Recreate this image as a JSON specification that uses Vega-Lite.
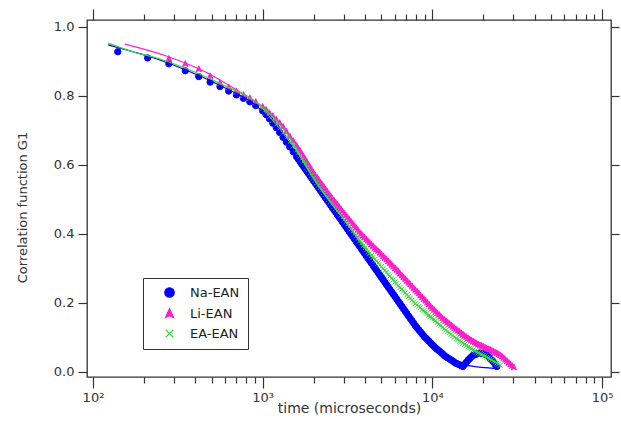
{
"$schema": "https://vega.github.io/schema/vega-lite/v6.json",
"width": 524, "height": 357,
"autosize": {"type": "none"},
"padding": {"left": 87, "top": 20, "right": 10, "bottom": 57},
"background": "white",
"config": {
 "view": {"stroke": "#333", "strokeWidth": 1.3},
 "font": "DejaVu Sans",
 "axis": {"grid": false, "domain": false, "tickColor": "#333", "tickWidth": 1.2, "labelColor": "#333", "labelFont": "DejaVu Sans", "labelFontSize": 13, "titleFont": "DejaVu Sans", "titleFontSize": 13, "titleFontWeight": "normal", "titleColor": "#333"}
},
"datasets": {
"pts": [
{"s":"Na-EAN","t":140,"g":0.928},{"s":"Na-EAN","t":210,"g":0.910},{"s":"Na-EAN","t":280,"g":0.893},{"s":"Na-EAN","t":350,"g":0.873},{"s":"Na-EAN","t":420,"g":0.856},{"s":"Na-EAN","t":490,"g":0.840},{"s":"Na-EAN","t":560,"g":0.827},{"s":"Na-EAN","t":630,"g":0.814},{"s":"Na-EAN","t":700,"g":0.803},{"s":"Na-EAN","t":770,"g":0.793},{"s":"Na-EAN","t":840,"g":0.783},{"s":"Na-EAN","t":910,"g":0.772},
{"s":"Na-EAN","t":1000,"g":0.757},{"s":"Na-EAN","t":1047,"g":0.746},{"s":"Na-EAN","t":1096,"g":0.734},{"s":"Na-EAN","t":1148,"g":0.721},{"s":"Na-EAN","t":1202,"g":0.708},{"s":"Na-EAN","t":1259,"g":0.694},{"s":"Na-EAN","t":1318,"g":0.680},{"s":"Na-EAN","t":1380,"g":0.666},{"s":"Na-EAN","t":1445,"g":0.652},{"s":"Na-EAN","t":1514,"g":0.638},{"s":"Na-EAN","t":1585,"g":0.624},
{"s":"Na-EAN","t":1622,"g":0.617},{"s":"Na-EAN","t":1660,"g":0.610},{"s":"Na-EAN","t":1698,"g":0.603},{"s":"Na-EAN","t":1738,"g":0.596},{"s":"Na-EAN","t":1778,"g":0.589},{"s":"Na-EAN","t":1820,"g":0.582},{"s":"Na-EAN","t":1862,"g":0.575},{"s":"Na-EAN","t":1905,"g":0.568},{"s":"Na-EAN","t":1950,"g":0.561},{"s":"Na-EAN","t":1995,"g":0.554},{"s":"Na-EAN","t":2042,"g":0.547},{"s":"Na-EAN","t":2089,"g":0.540},{"s":"Na-EAN","t":2138,"g":0.533},{"s":"Na-EAN","t":2188,"g":0.526},{"s":"Na-EAN","t":2239,"g":0.519},{"s":"Na-EAN","t":2291,"g":0.512},{"s":"Na-EAN","t":2344,"g":0.505},{"s":"Na-EAN","t":2399,"g":0.498},{"s":"Na-EAN","t":2455,"g":0.491},{"s":"Na-EAN","t":2512,"g":0.484},{"s":"Na-EAN","t":2570,"g":0.477},{"s":"Na-EAN","t":2630,"g":0.470},{"s":"Na-EAN","t":2692,"g":0.463},{"s":"Na-EAN","t":2754,"g":0.456},{"s":"Na-EAN","t":2818,"g":0.449},{"s":"Na-EAN","t":2884,"g":0.442},{"s":"Na-EAN","t":2951,"g":0.435},{"s":"Na-EAN","t":3020,"g":0.428},{"s":"Na-EAN","t":3090,"g":0.421},{"s":"Na-EAN","t":3162,"g":0.414},{"s":"Na-EAN","t":3236,"g":0.407},{"s":"Na-EAN","t":3311,"g":0.400},{"s":"Na-EAN","t":3388,"g":0.393},{"s":"Na-EAN","t":3467,"g":0.386},{"s":"Na-EAN","t":3548,"g":0.379},{"s":"Na-EAN","t":3631,"g":0.372},{"s":"Na-EAN","t":3715,"g":0.365},{"s":"Na-EAN","t":3802,"g":0.358},{"s":"Na-EAN","t":3890,"g":0.351},{"s":"Na-EAN","t":3981,"g":0.344},{"s":"Na-EAN","t":4074,"g":0.337},{"s":"Na-EAN","t":4169,"g":0.330},{"s":"Na-EAN","t":4266,"g":0.323},{"s":"Na-EAN","t":4365,"g":0.316},{"s":"Na-EAN","t":4467,"g":0.309},{"s":"Na-EAN","t":4571,"g":0.302},{"s":"Na-EAN","t":4677,"g":0.295},{"s":"Na-EAN","t":4786,"g":0.288},{"s":"Na-EAN","t":4898,"g":0.281},{"s":"Na-EAN","t":5012,"g":0.274},{"s":"Na-EAN","t":5129,"g":0.267},{"s":"Na-EAN","t":5248,"g":0.260},{"s":"Na-EAN","t":5370,"g":0.253},{"s":"Na-EAN","t":5495,"g":0.246},{"s":"Na-EAN","t":5623,"g":0.239},{"s":"Na-EAN","t":5754,"g":0.232},{"s":"Na-EAN","t":5888,"g":0.225},{"s":"Na-EAN","t":6026,"g":0.218},{"s":"Na-EAN","t":6166,"g":0.211},{"s":"Na-EAN","t":6310,"g":0.204},{"s":"Na-EAN","t":6457,"g":0.197},{"s":"Na-EAN","t":6607,"g":0.190},{"s":"Na-EAN","t":6761,"g":0.183},{"s":"Na-EAN","t":6918,"g":0.176},{"s":"Na-EAN","t":7079,"g":0.169},{"s":"Na-EAN","t":7244,"g":0.162},{"s":"Na-EAN","t":7413,"g":0.155},{"s":"Na-EAN","t":7586,"g":0.148},{"s":"Na-EAN","t":7762,"g":0.141},{"s":"Na-EAN","t":7943,"g":0.134},{"s":"Na-EAN","t":8128,"g":0.128},{"s":"Na-EAN","t":8318,"g":0.122},{"s":"Na-EAN","t":8511,"g":0.116},{"s":"Na-EAN","t":8710,"g":0.110},{"s":"Na-EAN","t":8913,"g":0.104},{"s":"Na-EAN","t":9120,"g":0.099},{"s":"Na-EAN","t":9333,"g":0.094},{"s":"Na-EAN","t":9550,"g":0.089},{"s":"Na-EAN","t":9772,"g":0.084},{"s":"Na-EAN","t":10000,"g":0.079},{"s":"Na-EAN","t":10233,"g":0.074},{"s":"Na-EAN","t":10471,"g":0.069},{"s":"Na-EAN","t":10715,"g":0.065},{"s":"Na-EAN","t":10965,"g":0.061},{"s":"Na-EAN","t":11220,"g":0.057},{"s":"Na-EAN","t":11482,"g":0.053},{"s":"Na-EAN","t":11749,"g":0.048},{"s":"Na-EAN","t":12023,"g":0.044},{"s":"Na-EAN","t":12303,"g":0.041},{"s":"Na-EAN","t":12589,"g":0.038},{"s":"Na-EAN","t":12882,"g":0.035},{"s":"Na-EAN","t":13183,"g":0.032},{"s":"Na-EAN","t":13490,"g":0.028},{"s":"Na-EAN","t":13804,"g":0.025},{"s":"Na-EAN","t":14125,"g":0.023},{"s":"Na-EAN","t":14454,"g":0.021},{"s":"Na-EAN","t":14791,"g":0.018},{"s":"Na-EAN","t":15136,"g":0.016},{"s":"Na-EAN","t":15488,"g":0.022},{"s":"Na-EAN","t":15849,"g":0.028},{"s":"Na-EAN","t":16218,"g":0.034},{"s":"Na-EAN","t":16596,"g":0.039},{"s":"Na-EAN","t":16982,"g":0.044},{"s":"Na-EAN","t":17378,"g":0.048},{"s":"Na-EAN","t":17783,"g":0.050},{"s":"Na-EAN","t":18197,"g":0.052},{"s":"Na-EAN","t":18621,"g":0.054},{"s":"Na-EAN","t":19055,"g":0.055},{"s":"Na-EAN","t":19498,"g":0.054},{"s":"Na-EAN","t":19953,"g":0.053},{"s":"Na-EAN","t":20417,"g":0.052},{"s":"Na-EAN","t":20893,"g":0.050},{"s":"Na-EAN","t":21380,"g":0.045},{"s":"Na-EAN","t":21878,"g":0.040},{"s":"Na-EAN","t":22387,"g":0.034},{"s":"Na-EAN","t":22909,"g":0.029},{"s":"Na-EAN","t":23442,"g":0.022},{"s":"Na-EAN","t":23988,"g":0.016},
{"s":"Li-EAN","t":280,"g":0.908},{"s":"Li-EAN","t":350,"g":0.893},{"s":"Li-EAN","t":420,"g":0.878},{"s":"Li-EAN","t":490,"g":0.858},{"s":"Li-EAN","t":560,"g":0.838},{"s":"Li-EAN","t":630,"g":0.825},{"s":"Li-EAN","t":700,"g":0.813},{"s":"Li-EAN","t":770,"g":0.803},{"s":"Li-EAN","t":840,"g":0.794},{"s":"Li-EAN","t":910,"g":0.783},
{"s":"Li-EAN","t":1000,"g":0.769},{"s":"Li-EAN","t":1047,"g":0.760},{"s":"Li-EAN","t":1096,"g":0.751},{"s":"Li-EAN","t":1148,"g":0.742},{"s":"Li-EAN","t":1202,"g":0.732},{"s":"Li-EAN","t":1259,"g":0.722},{"s":"Li-EAN","t":1318,"g":0.711},{"s":"Li-EAN","t":1380,"g":0.697},{"s":"Li-EAN","t":1445,"g":0.683},{"s":"Li-EAN","t":1514,"g":0.670},{"s":"Li-EAN","t":1585,"g":0.656},
{"s":"Li-EAN","t":1622,"g":0.648},{"s":"Li-EAN","t":1660,"g":0.641},{"s":"Li-EAN","t":1698,"g":0.633},{"s":"Li-EAN","t":1738,"g":0.625},{"s":"Li-EAN","t":1778,"g":0.617},{"s":"Li-EAN","t":1820,"g":0.609},{"s":"Li-EAN","t":1862,"g":0.601},{"s":"Li-EAN","t":1905,"g":0.593},{"s":"Li-EAN","t":1950,"g":0.585},{"s":"Li-EAN","t":1995,"g":0.577},{"s":"Li-EAN","t":2042,"g":0.570},{"s":"Li-EAN","t":2089,"g":0.564},{"s":"Li-EAN","t":2138,"g":0.557},{"s":"Li-EAN","t":2188,"g":0.550},{"s":"Li-EAN","t":2239,"g":0.543},{"s":"Li-EAN","t":2291,"g":0.537},{"s":"Li-EAN","t":2344,"g":0.530},{"s":"Li-EAN","t":2399,"g":0.523},{"s":"Li-EAN","t":2455,"g":0.516},{"s":"Li-EAN","t":2512,"g":0.510},{"s":"Li-EAN","t":2570,"g":0.503},{"s":"Li-EAN","t":2630,"g":0.497},{"s":"Li-EAN","t":2692,"g":0.491},{"s":"Li-EAN","t":2754,"g":0.485},{"s":"Li-EAN","t":2818,"g":0.479},{"s":"Li-EAN","t":2884,"g":0.473},{"s":"Li-EAN","t":2951,"g":0.466},{"s":"Li-EAN","t":3020,"g":0.460},{"s":"Li-EAN","t":3090,"g":0.454},{"s":"Li-EAN","t":3162,"g":0.448},{"s":"Li-EAN","t":3236,"g":0.442},{"s":"Li-EAN","t":3311,"g":0.436},{"s":"Li-EAN","t":3388,"g":0.430},{"s":"Li-EAN","t":3467,"g":0.424},{"s":"Li-EAN","t":3548,"g":0.418},{"s":"Li-EAN","t":3631,"g":0.412},{"s":"Li-EAN","t":3715,"g":0.406},{"s":"Li-EAN","t":3802,"g":0.400},{"s":"Li-EAN","t":3890,"g":0.395},{"s":"Li-EAN","t":3981,"g":0.390},{"s":"Li-EAN","t":4074,"g":0.385},{"s":"Li-EAN","t":4169,"g":0.380},{"s":"Li-EAN","t":4266,"g":0.375},{"s":"Li-EAN","t":4365,"g":0.370},{"s":"Li-EAN","t":4467,"g":0.365},{"s":"Li-EAN","t":4571,"g":0.360},{"s":"Li-EAN","t":4677,"g":0.355},{"s":"Li-EAN","t":4786,"g":0.351},{"s":"Li-EAN","t":4898,"g":0.346},{"s":"Li-EAN","t":5012,"g":0.341},{"s":"Li-EAN","t":5129,"g":0.336},{"s":"Li-EAN","t":5248,"g":0.331},{"s":"Li-EAN","t":5370,"g":0.326},{"s":"Li-EAN","t":5495,"g":0.321},{"s":"Li-EAN","t":5623,"g":0.316},{"s":"Li-EAN","t":5754,"g":0.311},{"s":"Li-EAN","t":5888,"g":0.306},{"s":"Li-EAN","t":6026,"g":0.301},{"s":"Li-EAN","t":6166,"g":0.296},{"s":"Li-EAN","t":6310,"g":0.291},{"s":"Li-EAN","t":6457,"g":0.285},{"s":"Li-EAN","t":6607,"g":0.280},{"s":"Li-EAN","t":6761,"g":0.275},{"s":"Li-EAN","t":6918,"g":0.270},{"s":"Li-EAN","t":7079,"g":0.264},{"s":"Li-EAN","t":7244,"g":0.259},{"s":"Li-EAN","t":7413,"g":0.254},{"s":"Li-EAN","t":7586,"g":0.249},{"s":"Li-EAN","t":7762,"g":0.243},{"s":"Li-EAN","t":7943,"g":0.238},{"s":"Li-EAN","t":8128,"g":0.233},{"s":"Li-EAN","t":8318,"g":0.228},{"s":"Li-EAN","t":8511,"g":0.222},{"s":"Li-EAN","t":8710,"g":0.217},{"s":"Li-EAN","t":8913,"g":0.212},{"s":"Li-EAN","t":9120,"g":0.207},{"s":"Li-EAN","t":9333,"g":0.201},{"s":"Li-EAN","t":9550,"g":0.196},{"s":"Li-EAN","t":9772,"g":0.190},{"s":"Li-EAN","t":10000,"g":0.185},{"s":"Li-EAN","t":10233,"g":0.180},{"s":"Li-EAN","t":10471,"g":0.175},{"s":"Li-EAN","t":10715,"g":0.170},{"s":"Li-EAN","t":10965,"g":0.166},{"s":"Li-EAN","t":11220,"g":0.161},{"s":"Li-EAN","t":11482,"g":0.156},{"s":"Li-EAN","t":11749,"g":0.152},{"s":"Li-EAN","t":12023,"g":0.148},{"s":"Li-EAN","t":12303,"g":0.144},{"s":"Li-EAN","t":12589,"g":0.140},{"s":"Li-EAN","t":12882,"g":0.136},{"s":"Li-EAN","t":13183,"g":0.132},{"s":"Li-EAN","t":13490,"g":0.128},{"s":"Li-EAN","t":13804,"g":0.124},{"s":"Li-EAN","t":14125,"g":0.120},{"s":"Li-EAN","t":14454,"g":0.117},{"s":"Li-EAN","t":14791,"g":0.113},{"s":"Li-EAN","t":15136,"g":0.109},{"s":"Li-EAN","t":15488,"g":0.105},{"s":"Li-EAN","t":15849,"g":0.102},{"s":"Li-EAN","t":16218,"g":0.098},{"s":"Li-EAN","t":16596,"g":0.095},{"s":"Li-EAN","t":16982,"g":0.092},{"s":"Li-EAN","t":17378,"g":0.089},{"s":"Li-EAN","t":17783,"g":0.086},{"s":"Li-EAN","t":18197,"g":0.083},{"s":"Li-EAN","t":18621,"g":0.080},{"s":"Li-EAN","t":19055,"g":0.078},{"s":"Li-EAN","t":19498,"g":0.076},{"s":"Li-EAN","t":19953,"g":0.074},{"s":"Li-EAN","t":20417,"g":0.071},{"s":"Li-EAN","t":20893,"g":0.069},{"s":"Li-EAN","t":21380,"g":0.067},{"s":"Li-EAN","t":21878,"g":0.065},{"s":"Li-EAN","t":22387,"g":0.062},{"s":"Li-EAN","t":22909,"g":0.060},{"s":"Li-EAN","t":23442,"g":0.057},{"s":"Li-EAN","t":23988,"g":0.055},{"s":"Li-EAN","t":24547,"g":0.052},{"s":"Li-EAN","t":25119,"g":0.049},{"s":"Li-EAN","t":25704,"g":0.045},{"s":"Li-EAN","t":26303,"g":0.041},{"s":"Li-EAN","t":26915,"g":0.036},{"s":"Li-EAN","t":27542,"g":0.032},{"s":"Li-EAN","t":28184,"g":0.027},{"s":"Li-EAN","t":28840,"g":0.022},{"s":"Li-EAN","t":29512,"g":0.018},{"s":"Li-EAN","t":30200,"g":0.014},
{"s":"EA-EAN","t":1000,"g":0.763},{"s":"EA-EAN","t":1047,"g":0.752},{"s":"EA-EAN","t":1096,"g":0.740},{"s":"EA-EAN","t":1148,"g":0.729},{"s":"EA-EAN","t":1202,"g":0.717},{"s":"EA-EAN","t":1259,"g":0.706},{"s":"EA-EAN","t":1318,"g":0.693},{"s":"EA-EAN","t":1380,"g":0.680},{"s":"EA-EAN","t":1445,"g":0.667},{"s":"EA-EAN","t":1514,"g":0.655},{"s":"EA-EAN","t":1585,"g":0.642},
{"s":"EA-EAN","t":1622,"g":0.634},{"s":"EA-EAN","t":1660,"g":0.626},{"s":"EA-EAN","t":1698,"g":0.618},{"s":"EA-EAN","t":1738,"g":0.610},{"s":"EA-EAN","t":1778,"g":0.602},{"s":"EA-EAN","t":1820,"g":0.594},{"s":"EA-EAN","t":1862,"g":0.586},{"s":"EA-EAN","t":1905,"g":0.578},{"s":"EA-EAN","t":1950,"g":0.570},{"s":"EA-EAN","t":1995,"g":0.562},{"s":"EA-EAN","t":2042,"g":0.556},{"s":"EA-EAN","t":2089,"g":0.549},{"s":"EA-EAN","t":2138,"g":0.542},{"s":"EA-EAN","t":2188,"g":0.535},{"s":"EA-EAN","t":2239,"g":0.528},{"s":"EA-EAN","t":2291,"g":0.521},{"s":"EA-EAN","t":2344,"g":0.514},{"s":"EA-EAN","t":2399,"g":0.507},{"s":"EA-EAN","t":2455,"g":0.500},{"s":"EA-EAN","t":2512,"g":0.493},{"s":"EA-EAN","t":2570,"g":0.487},{"s":"EA-EAN","t":2630,"g":0.480},{"s":"EA-EAN","t":2692,"g":0.474},{"s":"EA-EAN","t":2754,"g":0.467},{"s":"EA-EAN","t":2818,"g":0.461},{"s":"EA-EAN","t":2884,"g":0.454},{"s":"EA-EAN","t":2951,"g":0.448},{"s":"EA-EAN","t":3020,"g":0.441},{"s":"EA-EAN","t":3090,"g":0.435},{"s":"EA-EAN","t":3162,"g":0.428},{"s":"EA-EAN","t":3236,"g":0.421},{"s":"EA-EAN","t":3311,"g":0.414},{"s":"EA-EAN","t":3388,"g":0.407},{"s":"EA-EAN","t":3467,"g":0.400},{"s":"EA-EAN","t":3548,"g":0.393},{"s":"EA-EAN","t":3631,"g":0.386},{"s":"EA-EAN","t":3715,"g":0.379},{"s":"EA-EAN","t":3802,"g":0.372},{"s":"EA-EAN","t":3890,"g":0.365},{"s":"EA-EAN","t":3981,"g":0.358},{"s":"EA-EAN","t":4074,"g":0.353},{"s":"EA-EAN","t":4169,"g":0.348},{"s":"EA-EAN","t":4266,"g":0.343},{"s":"EA-EAN","t":4365,"g":0.337},{"s":"EA-EAN","t":4467,"g":0.332},{"s":"EA-EAN","t":4571,"g":0.326},{"s":"EA-EAN","t":4677,"g":0.321},{"s":"EA-EAN","t":4786,"g":0.316},{"s":"EA-EAN","t":4898,"g":0.311},{"s":"EA-EAN","t":5012,"g":0.306},{"s":"EA-EAN","t":5129,"g":0.300},{"s":"EA-EAN","t":5248,"g":0.294},{"s":"EA-EAN","t":5370,"g":0.289},{"s":"EA-EAN","t":5495,"g":0.283},{"s":"EA-EAN","t":5623,"g":0.278},{"s":"EA-EAN","t":5754,"g":0.272},{"s":"EA-EAN","t":5888,"g":0.267},{"s":"EA-EAN","t":6026,"g":0.261},{"s":"EA-EAN","t":6166,"g":0.256},{"s":"EA-EAN","t":6310,"g":0.250},{"s":"EA-EAN","t":6457,"g":0.245},{"s":"EA-EAN","t":6607,"g":0.240},{"s":"EA-EAN","t":6761,"g":0.235},{"s":"EA-EAN","t":6918,"g":0.229},{"s":"EA-EAN","t":7079,"g":0.224},{"s":"EA-EAN","t":7244,"g":0.219},{"s":"EA-EAN","t":7413,"g":0.214},{"s":"EA-EAN","t":7586,"g":0.208},{"s":"EA-EAN","t":7762,"g":0.203},{"s":"EA-EAN","t":7943,"g":0.198},{"s":"EA-EAN","t":8128,"g":0.194},{"s":"EA-EAN","t":8318,"g":0.190},{"s":"EA-EAN","t":8511,"g":0.186},{"s":"EA-EAN","t":8710,"g":0.181},{"s":"EA-EAN","t":8913,"g":0.178},{"s":"EA-EAN","t":9120,"g":0.174},{"s":"EA-EAN","t":9333,"g":0.170},{"s":"EA-EAN","t":9550,"g":0.165},{"s":"EA-EAN","t":9772,"g":0.161},{"s":"EA-EAN","t":10000,"g":0.157},{"s":"EA-EAN","t":10233,"g":0.153},{"s":"EA-EAN","t":10471,"g":0.149},{"s":"EA-EAN","t":10715,"g":0.144},{"s":"EA-EAN","t":10965,"g":0.139},{"s":"EA-EAN","t":11220,"g":0.135},{"s":"EA-EAN","t":11482,"g":0.130},{"s":"EA-EAN","t":11749,"g":0.126},{"s":"EA-EAN","t":12023,"g":0.121},{"s":"EA-EAN","t":12303,"g":0.117},{"s":"EA-EAN","t":12589,"g":0.113},{"s":"EA-EAN","t":12882,"g":0.109},{"s":"EA-EAN","t":13183,"g":0.105},{"s":"EA-EAN","t":13490,"g":0.101},{"s":"EA-EAN","t":13804,"g":0.097},{"s":"EA-EAN","t":14125,"g":0.094},{"s":"EA-EAN","t":14454,"g":0.090},{"s":"EA-EAN","t":14791,"g":0.087},{"s":"EA-EAN","t":15136,"g":0.083},{"s":"EA-EAN","t":15488,"g":0.080},{"s":"EA-EAN","t":15849,"g":0.076},{"s":"EA-EAN","t":16218,"g":0.073},{"s":"EA-EAN","t":16596,"g":0.070},{"s":"EA-EAN","t":16982,"g":0.067},{"s":"EA-EAN","t":17378,"g":0.064},{"s":"EA-EAN","t":17783,"g":0.061},{"s":"EA-EAN","t":18197,"g":0.058},{"s":"EA-EAN","t":18621,"g":0.056},{"s":"EA-EAN","t":19055,"g":0.053},{"s":"EA-EAN","t":19498,"g":0.051},{"s":"EA-EAN","t":19953,"g":0.048},{"s":"EA-EAN","t":20417,"g":0.046},{"s":"EA-EAN","t":20893,"g":0.043},{"s":"EA-EAN","t":21380,"g":0.041},{"s":"EA-EAN","t":21878,"g":0.038},{"s":"EA-EAN","t":22387,"g":0.035},{"s":"EA-EAN","t":22909,"g":0.032},{"s":"EA-EAN","t":23442,"g":0.029},{"s":"EA-EAN","t":23988,"g":0.026},{"s":"EA-EAN","t":24547,"g":0.023},{"s":"EA-EAN","t":25119,"g":0.019}
],
"fit": [
{"f":"Na","t":123,"g":0.948},{"f":"Na","t":172,"g":0.928},{"f":"Na","t":238,"g":0.907},{"f":"Na","t":373,"g":0.870},{"f":"Na","t":584,"g":0.826},{"f":"Na","t":926,"g":0.770},{"f":"Na","t":1593,"g":0.624},{"f":"Na","t":2493,"g":0.486},{"f":"Na","t":3954,"g":0.346},{"f":"Na","t":6185,"g":0.210},{"f":"Na","t":9046,"g":0.100},{"f":"Na","t":13964,"g":0.025},{"f":"Na","t":16656,"g":0.018},{"f":"Na","t":24030,"g":0.010},
{"f":"Li","t":154,"g":0.950},{"f":"Li","t":273,"g":0.915},{"f":"Li","t":457,"g":0.870},{"f":"Li","t":715,"g":0.815},{"f":"Li","t":1004,"g":0.768},{"f":"Li","t":1593,"g":0.655},{"f":"Li","t":2493,"g":0.510},{"f":"Li","t":3796,"g":0.400},{"f":"Li","t":6185,"g":0.295},{"f":"Li","t":10081,"g":0.183},{"f":"Li","t":15994,"g":0.100},{"f":"Li","t":21848,"g":0.065},{"f":"Li","t":30670,"g":0.012},
{"f":"EA","t":123,"g":0.953},{"f":"EA","t":172,"g":0.928},{"f":"EA","t":238,"g":0.910},{"f":"EA","t":373,"g":0.875},{"f":"EA","t":584,"g":0.832},{"f":"EA","t":926,"g":0.780},{"f":"EA","t":1391,"g":0.690},{"f":"EA","t":1979,"g":0.562},{"f":"EA","t":3140,"g":0.430},{"f":"EA","t":4912,"g":0.310},{"f":"EA","t":7687,"g":0.205},{"f":"EA","t":12190,"g":0.118},{"f":"EA","t":19077,"g":0.053},{"f":"EA","t":25030,"g":0.020}
]
},
"layer": [
{
 "data": {"name": "pts"},
 "mark": {"type": "point", "filled": true, "size": 40, "strokeWidth": 1, "opacity": 1},
 "encoding": {
  "x": {"field": "t", "type": "quantitative", "scale": {"type": "log", "domain": [92.2, 112850], "nice": false},
        "axis": {"orient": "bottom", "values": [100, 1000, 10000, 100000], "labelExpr": "datum.value == 100 ? '10²' : datum.value == 1000 ? '10³' : datum.value == 10000 ? '10⁴' : '10⁵'", "tickSize": 11, "labelPadding": 3, "labelFlush": false, "labelOverlap": false, "title": "time (microseconds)", "titleFontSize": 14, "titlePadding": -3}},
  "y": {"field": "g", "type": "quantitative", "scale": {"domain": [-0.0145, 1.02], "nice": false, "zero": false},
        "axis": {"orient": "left", "values": [0, 0.2, 0.4, 0.6, 0.8, 1.0], "format": ".1f", "tickSize": 9, "labelPadding": 4, "title": "Correlation function G1", "titlePadding": 24, "titleY": 187}},
  "fill": {"field": "s", "type": "nominal", "scale": {"domain": ["Na-EAN", "Li-EAN", "EA-EAN"], "range": ["#0000ff", "#ff1ecb", "#38d838"]},
           "legend": {"title": null, "orient": "none", "legendX": 56, "legendY": 258, "strokeColor": "#333", "fillColor": "white", "padding": 8, "labelFontSize": 13, "labelFont": "DejaVu Sans", "labelColor": "#222", "symbolSize": 90, "symbolStrokeWidth": 1.2, "rowPadding": 6, "symbolOffset": 12, "labelOffset": 14}},
  "stroke": {"field": "s", "type": "nominal", "scale": {"domain": ["Na-EAN", "Li-EAN", "EA-EAN"], "range": ["#0000ff", "#ff1ecb", "#38d838"]},
           "legend": {"title": null, "orient": "none", "legendX": 56, "legendY": 258, "strokeColor": "#333", "fillColor": "white", "padding": 8, "labelFontSize": 13, "labelFont": "DejaVu Sans", "labelColor": "#222", "symbolSize": 90, "symbolStrokeWidth": 1.2, "rowPadding": 6, "symbolOffset": 12, "labelOffset": 14}},
  "shape": {"field": "s", "type": "nominal", "scale": {"domain": ["Na-EAN", "Li-EAN", "EA-EAN"], "range": ["circle", "M0,-1L0.85,0.85L0,0.45L-0.85,0.85Z", "M-0.8,-0.8L0.8,0.8M-0.8,0.8L0.8,-0.8"]},
           "legend": {"title": null, "orient": "none", "legendX": 56, "legendY": 258, "strokeColor": "#333", "fillColor": "white", "padding": 8, "labelFontSize": 13, "labelFont": "DejaVu Sans", "labelColor": "#222", "symbolSize": 90, "symbolStrokeWidth": 1.2, "rowPadding": 6, "symbolOffset": 12, "labelOffset": 14}}
 }
},
{
 "data": {"name": "fit"},
 "mark": {"type": "line", "strokeWidth": 1.2, "interpolate": "monotone"},
 "encoding": {
  "x": {"field": "t", "type": "quantitative", "scale": {"type": "log", "domain": [92.2, 112850], "nice": false},
        "axis": {"orient": "bottom", "values": [200,300,400,500,600,700,800,900,2000,3000,4000,5000,6000,7000,8000,9000,20000,30000,40000,50000,60000,70000,80000,90000], "tickSize": 6, "labels": false, "title": null}},
  "y": {"field": "g", "type": "quantitative", "scale": {"domain": [-0.0145, 1.02], "nice": false, "zero": false},
        "axis": {"orient": "right", "values": [0, 0.2, 0.4, 0.6, 0.8, 1.0], "tickSize": 8, "labels": false, "title": null}},
  "color": {"field": "f", "type": "nominal", "scale": {"domain": ["Na", "Li", "EA"], "range": ["#0000ff", "#ff1ecb", "#38d838"]}, "legend": null}
 }
},
{
 "data": {"name": "fit"},
 "mark": {"type": "point", "opacity": 0},
 "encoding": {
  "x": {"field": "t", "type": "quantitative", "scale": {"type": "log", "domain": [92.2, 112850], "nice": false},
        "axis": {"orient": "top", "values": [100, 1000, 10000, 100000], "tickSize": 11, "labels": false, "title": null}},
  "y": {"field": "g", "type": "quantitative", "scale": {"domain": [-0.0145, 1.02], "nice": false, "zero": false}, "axis": null}
 }
},
{
 "data": {"name": "fit"},
 "mark": {"type": "point", "opacity": 0},
 "encoding": {
  "x": {"field": "t", "type": "quantitative", "scale": {"type": "log", "domain": [92.2, 112850], "nice": false},
        "axis": {"orient": "top", "values": [200,300,400,500,600,700,800,900,2000,3000,4000,5000,6000,7000,8000,9000,20000,30000,40000,50000,60000,70000,80000,90000], "tickSize": 6, "labels": false, "title": null}},
  "y": {"field": "g", "type": "quantitative", "scale": {"domain": [-0.0145, 1.02], "nice": false, "zero": false}, "axis": null}
 }
}
],
"resolve": {"axis": {"x": "independent", "y": "independent"}}
}
